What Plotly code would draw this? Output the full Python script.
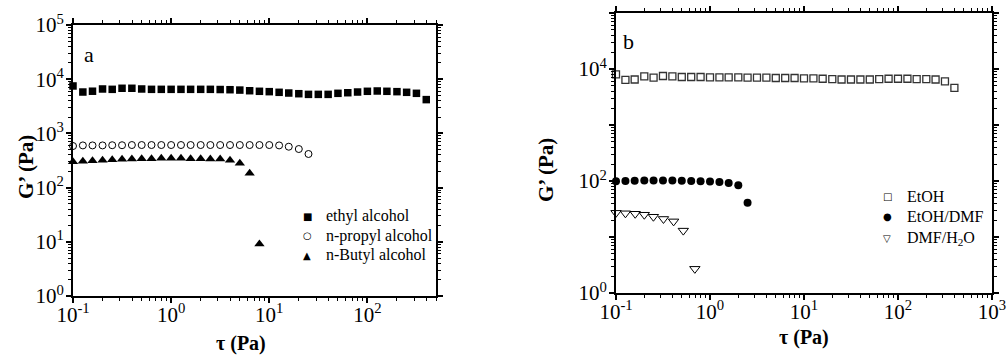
import plotly.graph_objects as go

# ---- panel a: G' vs shear stress for three alcohols ----
tau_ethyl = [0.1, 0.126, 0.158, 0.2, 0.251, 0.316, 0.398, 0.501, 0.631, 0.794,
             1.0, 1.26, 1.58, 2.0, 2.51, 3.16, 3.98, 5.01, 6.31, 7.94,
             10, 12.6, 15.8, 20, 25.1, 31.6, 39.8, 50.1, 63.1, 79.4,
             100, 126, 158, 200, 251, 316, 398]
g_ethyl = [7500, 5800, 6000, 6600, 6500, 6800, 6800, 6600, 6500, 6500,
           6500, 6500, 6500, 6500, 6500, 6450, 6400, 6300, 6130, 5980,
           5890, 5730, 5560, 5400, 5250, 5250, 5250, 5490, 5630, 5800,
           5980, 6060, 5980, 5890, 5730, 5490, 4200]

tau_propyl = [0.1, 0.126, 0.158, 0.2, 0.251, 0.316, 0.398, 0.501, 0.631, 0.794,
              1.0, 1.26, 1.58, 2.0, 2.51, 3.16, 3.98, 5.01, 6.31, 7.94,
              10, 12.6, 15.8, 20, 25.1]
g_propyl = [585, 600, 600, 600, 605, 605, 610, 610, 610, 610,
            610, 610, 610, 610, 610, 610, 610, 610, 610, 610,
            610, 600, 568, 515, 417]

tau_butyl = [0.1, 0.126, 0.158, 0.2, 0.251, 0.316, 0.398, 0.501, 0.631, 0.794,
             1.0, 1.26, 1.58, 2.0, 2.51, 3.16, 3.98, 5.01, 6.31, 7.94]
g_butyl = [301, 305, 314, 318, 327, 332, 337, 342, 342, 347,
           347, 347, 342, 342, 337, 337, 318, 280, 184, 9.1]

# ---- panel b: G' vs shear stress for three solvent systems ----
tau_etoh = [0.1, 0.126, 0.158, 0.2, 0.251, 0.316, 0.398, 0.501, 0.631, 0.794,
            1.0, 1.26, 1.58, 2.0, 2.51, 3.16, 3.98, 5.01, 6.31, 7.94,
            10, 12.6, 15.8, 20, 25.1, 31.6, 39.8, 50.1, 63.1, 79.4,
            100, 126, 158, 200, 251, 316, 398]
g_etoh = [8000, 6400, 6500, 7400, 7000, 7500, 7400, 7200, 7200, 7200,
          7100, 7100, 7100, 7100, 7000, 7000, 7000, 6900, 6900, 6900,
          6800, 6800, 6700, 6600, 6500, 6500, 6500, 6500, 6600, 6700,
          6700, 6700, 6600, 6600, 6500, 6000, 4600]

tau_etoh_dmf = [0.1, 0.126, 0.158, 0.2, 0.251, 0.316, 0.398, 0.501, 0.631, 0.794,
                1.0, 1.26, 1.58, 2.0, 2.51]
g_etoh_dmf = [99, 100, 101, 102, 102, 102, 102, 101, 100, 99,
              98, 96, 92, 84, 41]

tau_dmf_h2o = [0.1, 0.126, 0.16, 0.2, 0.25, 0.32, 0.41, 0.52, 0.69]
g_dmf_h2o = [27, 26.5, 26, 25, 23, 21, 19, 13, 2.7]

# ---- legend entries (symbol glyph, label) ----
legend_a = [("■", "ethyl alcohol"), ("○", "n-propyl alcohol"), ("▲", "n-Butyl alcohol")]
legend_b = [("□", "EtOH"), ("●", "EtOH/DMF"), ("▽", "DMF/H<sub>2</sub>O")]

# ---- tick labels ----
xa_ticks = [0.1, 1, 10, 100]
xa_text = ["10<sup>-1</sup>", "10<sup>0</sup>", "10<sup>1</sup>", "10<sup>2</sup>"]
ya_ticks = [1, 10, 100, 1000, 10000, 100000]
ya_text = ["10<sup>0</sup>", "10<sup>1</sup>", "10<sup>2</sup>",
           "10<sup>3</sup>", "10<sup>4</sup>", "10<sup>5</sup>"]
xb_ticks = [0.1, 1, 10, 100, 1000]
xb_text = ["10<sup>-1</sup>", "10<sup>0</sup>", "10<sup>1</sup>",
           "10<sup>2</sup>", "10<sup>3</sup>"]
yb_ticks = [1, 10, 100, 1000, 10000, 100000]
yb_text = ["10<sup>0</sup>", "", "10<sup>2</sup>", "", "10<sup>4</sup>", ""]

FONT = "Liberation Serif"
W, H = 1007, 356


def minor_vals(lo, hi):
    vals = []
    for e in range(lo, hi + 1):
        for m in range(2, 10):
            vals.append(m * 10 ** e)
    return vals


def log_axis(domain, rng, tickvals, ticktext, anchor, minor_lo, minor_hi, standoff):
    return dict(
        type="log", domain=domain, range=rng, anchor=anchor, automargin=False,
        tickmode="array", tickvals=tickvals, ticktext=ticktext,
        showline=True, linecolor="black", linewidth=2, mirror="allticks",
        ticks="outside", ticklen=5, tickwidth=1.5, tickcolor="black",
        ticklabelstandoff=standoff,
        minor=dict(tickmode="array", tickvals=minor_vals(minor_lo, minor_hi),
                   ticks="outside", ticklen=3, tickwidth=1, tickcolor="black",
                   showgrid=False),
        showgrid=False, zeroline=False,
        tickfont=dict(family=FONT, size=21, color="black"),
    )


fig = go.Figure()

fig.add_trace(go.Scatter(
    x=tau_ethyl, y=g_ethyl, mode="markers", name="ethyl alcohol",
    marker=dict(symbol="square", size=7.5, color="black"),
    xaxis="x", yaxis="y", cliponaxis=False))
fig.add_trace(go.Scatter(
    x=tau_propyl, y=g_propyl, mode="markers", name="n-propyl alcohol",
    marker=dict(symbol="circle-open", size=7, color="black", line=dict(width=1)),
    xaxis="x", yaxis="y", cliponaxis=False))
fig.add_trace(go.Scatter(
    x=tau_butyl, y=g_butyl, mode="markers", name="n-Butyl alcohol",
    marker=dict(symbol="triangle-up", size=9, color="black"),
    xaxis="x", yaxis="y", cliponaxis=False))

fig.add_trace(go.Scatter(
    x=tau_etoh, y=g_etoh, mode="markers", name="EtOH",
    marker=dict(symbol="square-open", size=7, color="#333333", line=dict(width=1.3)),
    xaxis="x2", yaxis="y2", cliponaxis=False))
fig.add_trace(go.Scatter(
    x=tau_etoh_dmf, y=g_etoh_dmf, mode="markers", name="EtOH/DMF",
    marker=dict(symbol="circle", size=8, color="black"),
    xaxis="x2", yaxis="y2", cliponaxis=False))
fig.add_trace(go.Scatter(
    x=tau_dmf_h2o, y=g_dmf_h2o, mode="markers", name="DMF/H<sub>2</sub>O",
    marker=dict(symbol="triangle-down-open", size=9, color="black", line=dict(width=1)),
    xaxis="x2", yaxis="y2", cliponaxis=False))

# plot-area boundaries in pixels
ax_l, ax_r, ax_t, ax_b = 73, 436, 25, 296
bx_l, bx_r, bx_t, bx_b = 616, 992, 13, 293

fig.update_layout(
    width=W, height=H, margin=dict(l=0, r=0, t=0, b=0, autoexpand=False),
    paper_bgcolor="white", plot_bgcolor="white",
    font=dict(family=FONT, color="black"),
    xaxis=log_axis([ax_l / W, ax_r / W], [-1, 2.699], xa_ticks, xa_text, "y", -1, 2, -6),
    yaxis=log_axis([1 - ax_b / H, 1 - ax_t / H], [0, 5], ya_ticks, ya_text, "x", 0, 4, -2),
    xaxis2=log_axis([bx_l / W, bx_r / W], [-1, 3], xb_ticks, xb_text, "y2", -1, 2, -6),
    yaxis2=log_axis([1 - bx_b / H, 1 - bx_t / H], [0, 5], yb_ticks, yb_text, "x2", 0, 4, -2),
    showlegend=False,
)


def txt(text, px, py, size, angle=0, xanchor="center", family=FONT):
    return dict(text=text, x=px / W, y=1 - py / H, xref="paper", yref="paper",
                xanchor=xanchor, yanchor="middle", textangle=angle,
                showarrow=False, font=dict(family=family, size=size, color="black"))


ann = [txt("a", 89, 55, 22), txt("b", 628, 42, 22)]
for cx, cy in [(241, 343), (804, 337)]:
    ann.append(txt("<b>τ (Pa)</b>", cx, cy, 20))
for cx, cy in [(26, 167), (546, 170)]:
    ann.append(txt("<b>G’ (Pa)</b>", cx, cy, 21, angle=-90))

# hand-placed legends
for (sym, label), ry in zip(legend_a, [216, 235.5, 255]):
    ann.append(txt(sym, 307, ry, 10, family="DejaVu Sans"))
    ann.append(txt(label, 324, ry, 16, xanchor="left"))
for (sym, label), ry in zip(legend_b, [196, 216.5, 238]):
    ann.append(txt(sym, 887, ry, 10, family="DejaVu Sans"))
    ann.append(txt(label, 905, ry, 16, xanchor="left"))

fig.update_layout(annotations=ann)

fig.write_html("out.html")
